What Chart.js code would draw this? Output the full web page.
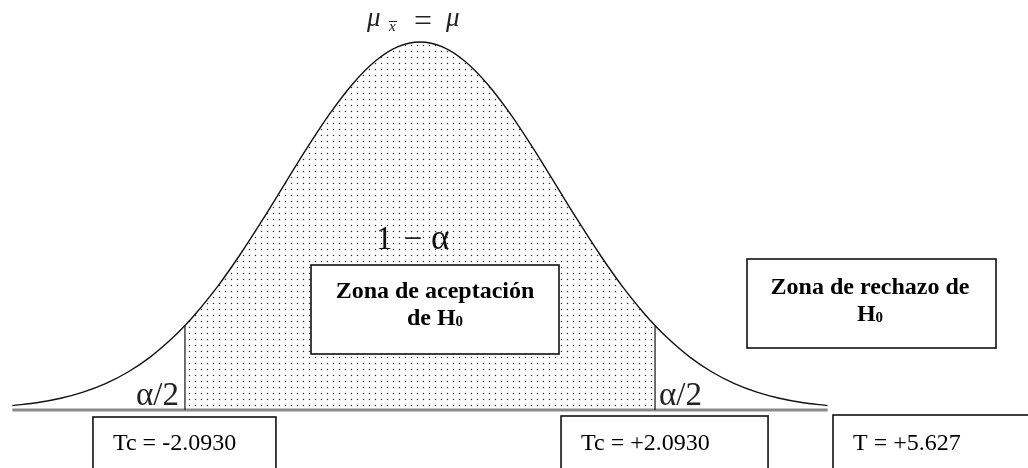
<!DOCTYPE html>
<html>
<head>
<meta charset="utf-8">
<script src="https://cdn.jsdelivr.net/npm/chart.js@4.4.1/dist/chart.umd.min.js"></script>
<style>
html,body{margin:0;padding:0;background:#fff;}
#wrap{width:1028px;height:468px;position:relative;}
</style>
</head>
<body>
<div id="wrap"><canvas id="c" width="1028" height="468"></canvas></div>
<script>
// ---- data ----
const tPoints = [-3.63,-3.4,-3.2,-3.0,-2.8,-2.6,-2.4,-2.2,-2.093,-2.0,-1.8,-1.6,-1.4,-1.2,-1.0,-0.8,-0.6,-0.4,-0.2,0,
                 0.2,0.4,0.6,0.8,1.0,1.2,1.4,1.6,1.8,2.0,2.093,2.2,2.4,2.6,2.8,3.0,3.2,3.4,3.63];
const density = [0.0048,0.0082,0.0128,0.0195,0.0287,0.0413,0.0578,0.0787,0.0918,0.1044,0.1347,0.1693,0.2071,0.2466,0.2859,0.3226,0.3544,0.3791,0.3947,0.4000,
                 0.3947,0.3791,0.3544,0.3226,0.2859,0.2466,0.2071,0.1693,0.1347,0.1044,0.0918,0.0787,0.0578,0.0413,0.0287,0.0195,0.0128,0.0082,0.0048];
const criticalT = [-2.093, 2.093];
const criticalLabels = ["Tc = -2.0930", "Tc = +2.0930"];
const observedLabel = "T = +5.627";
const acceptLines = ["Zona de aceptación", "de H"];
const rejectLines = ["Zona de rechazo de", "H"];

// ---- build datasets ----
const curve = tPoints.map((t,i)=>({x:t,y:density[i]}));
const central = curve.filter(p => p.x >= criticalT[0] && p.x <= criticalT[1]);
const baseLine = [{x:tPoints[0],y:0},{x:tPoints[tPoints.length-1],y:0}];

function dotPattern(){
  const c = document.createElement('canvas');
  c.width = 6; c.height = 6;
  const g = c.getContext('2d');
  g.fillStyle = '#fff'; g.fillRect(0,0,6,6);
  g.fillStyle = '#e2e2e2'; g.fillRect(2,3,3,1); g.fillRect(3,2,1,3);
  g.fillStyle = '#2e2e2e'; g.fillRect(3,3,1,1);
  return g.createPattern(c,'repeat');
}

const annot = {
  id:'annot',
  afterDraw(chart){
    const ctx = chart.ctx;
    const xs = chart.scales.x, ys = chart.scales.y;
    const y0 = ys.getPixelForValue(0);
    const xc = xs.getPixelForValue(0);
    ctx.save();
    ctx.fillStyle = '#000';
    ctx.strokeStyle = '#000';
    ctx.textBaseline = 'alphabetic';

    // mu label
    ctx.font = 'italic 27px "Liberation Serif"';
    ctx.textAlign = 'left';
    ctx.fillStyle = '#222';
    ctx.fillText('μ', xc-53, 26);
    ctx.font = 'italic 15px "Liberation Serif"';
    ctx.fillText('x', xc-31, 31);
    ctx.lineWidth = 1;
    ctx.strokeStyle = '#222';
    ctx.beginPath(); ctx.moveTo(xc-31, 21.5); ctx.lineTo(xc-23, 21.5); ctx.stroke();
    ctx.font = '32px "Liberation Serif"';
    ctx.textAlign = 'center';
    ctx.fillText('=', xc+3, 31);
    ctx.font = 'italic 27px "Liberation Serif"';
    ctx.textAlign = 'left';
    ctx.fillText('μ', xc+26, 26);

    // 1 - alpha
    ctx.fillStyle = '#111';
    ctx.font = '33px "Liberation Serif"';
    ctx.textAlign = 'left';
    ctx.fillText('1', xc-44, 249);
    ctx.textAlign = 'center';
    ctx.fillText('−', xc-7, 249);
    ctx.textAlign = 'left';
    ctx.font = '35px "Liberation Serif"';
    ctx.fillText('α', xc+11, 249);

    // alpha/2 labels
    ctx.fillStyle = '#222';
    ctx.font = '33px "Liberation Serif"';
    ctx.textAlign = 'right';
    ctx.fillText('α/2', xs.getPixelForValue(criticalT[0])-6, y0-5);
    ctx.textAlign = 'left';
    ctx.fillText('α/2', xs.getPixelForValue(criticalT[1])+4, y0-5);

    function box(l,t,r,b){
      ctx.fillStyle = '#fff';
      ctx.fillRect(l,t,r-l,b-t);
      ctx.lineWidth = 1.6;
      ctx.strokeStyle = '#111';
      ctx.strokeRect(l,t,r-l,b-t);
      ctx.fillStyle = '#000';
    }
    function hSub(text, cx, base){
      ctx.font = 'bold 24px "Liberation Serif"';
      const w1 = ctx.measureText(text).width;
      ctx.font = 'bold 15px "Liberation Serif"';
      const w2 = ctx.measureText('0').width;
      const left = cx - (w1+w2)/2;
      ctx.textAlign = 'left';
      ctx.font = 'bold 24px "Liberation Serif"';
      ctx.fillText(text, left, base);
      ctx.font = 'bold 15px "Liberation Serif"';
      ctx.fillText('0', left+w1, base+1);
    }

    // acceptance box
    box(311, 265, 559, 354);
    ctx.font = 'bold 24px "Liberation Serif"';
    ctx.textAlign = 'center';
    ctx.fillText(acceptLines[0], 435, 298);
    hSub(acceptLines[1], 435, 325);

    // rejection box
    box(747, 259, 996, 348);
    ctx.font = 'bold 24px "Liberation Serif"';
    ctx.textAlign = 'center';
    ctx.fillText(rejectLines[0], 870, 294);
    hSub(rejectLines[1], 870, 321);

    // bottom boxes
    const lx = xs.getPixelForValue(criticalT[0]);
    box(lx-92, 417, lx+91, 480);
    ctx.font = '24px "Liberation Serif"';
    ctx.textAlign = 'left';
    ctx.fillText(criticalLabels[0], lx-72, 450);

    const rx = xs.getPixelForValue(criticalT[1]);
    box(rx-94, 416, rx+113, 480);
    ctx.font = '24px "Liberation Serif"';
    ctx.textAlign = 'left';
    ctx.fillText(criticalLabels[1], rx-74, 450);

    box(833, 415, 1040, 480);
    ctx.font = '24px "Liberation Serif"';
    ctx.textAlign = 'left';
    ctx.fillText(observedLabel, 853, 450);

    ctx.restore();
  }
};

const datasets = [
  {data: curve, borderColor:'#111', borderWidth:1.4, pointRadius:0, cubicInterpolationMode:'monotone', fill:false, order:1, clip:false},
  {data: [{x:criticalT[0],y:0},{x:criticalT[0],y:density[tPoints.indexOf(criticalT[0])]}], borderColor:'#111', borderWidth:1.2, pointRadius:0, fill:false, order:1, clip:false},
  {data: [{x:criticalT[1],y:0},{x:criticalT[1],y:density[tPoints.indexOf(criticalT[1])]}], borderColor:'#111', borderWidth:1.2, pointRadius:0, fill:false, order:1, clip:false},
  {data: baseLine, borderColor:'#8a8a8a', borderWidth:3, pointRadius:0, fill:false, order:2, clip:false},
  {data: central, borderWidth:0, borderColor:'rgba(0,0,0,0)', pointRadius:0, cubicInterpolationMode:'monotone', fill:'origin', backgroundColor: dotPattern(), order:3, clip:false}
];

new Chart(document.getElementById('c'), {
  type:'line',
  data:{datasets},
  options:{
    responsive:false,
    animation:false,
    events:[],
    layout:{padding:{left:4.5, right:192.5, top:5.2, bottom:58}},
    plugins:{legend:{display:false}, tooltip:{enabled:false}},
    scales:{
      x:{type:'linear', min:-3.7, max:3.7, display:false},
      y:{type:'linear', min:0, max:0.44, display:false}
    }
  },
  plugins:[annot]
});
</script>
</body>
</html>
